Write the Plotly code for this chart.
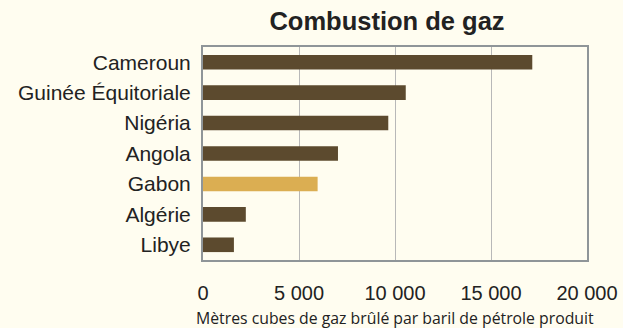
import plotly.graph_objects as go

# Gas flaring intensity by country
countries = ["Cameroun", "Guinée Équitoriale", "Nigéria", "Angola", "Gabon", "Algérie", "Libye"]
volumes = [17150, 10560, 9650, 7030, 5970, 2230, 1610]
highlight = "Gabon"

tick_vals = [0, 5000, 10000, 15000, 20000]
tick_text = ["0", "5 000", "10 000", "15 000", "20 000"]

x_title = "Mètres cubes de gaz brûlé par baril de pétrole produit"

BROWN = "#5c4a2e"
GOLD = "#dbae52"
BG = "#fffdf0"
FRAME = "#8f9598"

colors = [GOLD if c == highlight else BROWN for c in countries]

fig = go.Figure(
    go.Bar(
        x=volumes,
        y=countries,
        orientation="h",
        marker=dict(color=colors, line=dict(width=0)),
        width=0.48,
        hoverinfo="x+y",
    )
)

fig.update_layout(
    width=623,
    height=328,
    paper_bgcolor=BG,
    plot_bgcolor=BG,
    margin=dict(l=203, r=36, t=47, b=68, autoexpand=False),
    showlegend=False,
    title=dict(
        text="<b>Combustion de gaz</b>",
        x=387 / 623,
        xref="container",
        xanchor="center",
        y=1 - 21 / 328,
        yanchor="middle",
        font=dict(family="Liberation Sans, Arial, sans-serif", size=25.5, color="#222222"),
    ),
    font=dict(family="Liberation Sans, Arial, sans-serif", size=20, color="#222222"),
    annotations=[
        dict(
            text=x_title,
            xref="paper",
            yref="paper",
            x=0.5,
            y=-57.5 / 213,
            xanchor="center",
            yanchor="middle",
            showarrow=False,
            font=dict(family="Open Sans, Noto Sans, sans-serif", size=15.8, color="#222222"),
        )
    ],
)

fig.update_xaxes(
    range=[0, 20000],
    tickvals=tick_vals,
    ticktext=tick_text,
    showgrid=True,
    gridcolor="#b8b8b8",
    gridwidth=1,
    zeroline=False,
    showline=True,
    linecolor=FRAME,
    linewidth=2,
    mirror=True,
    ticks="",
    ticklabelstandoff=14,
    tickfont=dict(size=20, color="#222222"),
    automargin=False,
    fixedrange=True,
)

fig.update_yaxes(
    autorange="reversed",
    showgrid=False,
    zeroline=False,
    showline=True,
    linecolor=FRAME,
    linewidth=2,
    mirror=True,
    ticks="",
    ticklabelstandoff=6,
    tickfont=dict(size=21, color="#222222"),
    automargin=False,
    fixedrange=True,
)

fig.write_html("out.html")
